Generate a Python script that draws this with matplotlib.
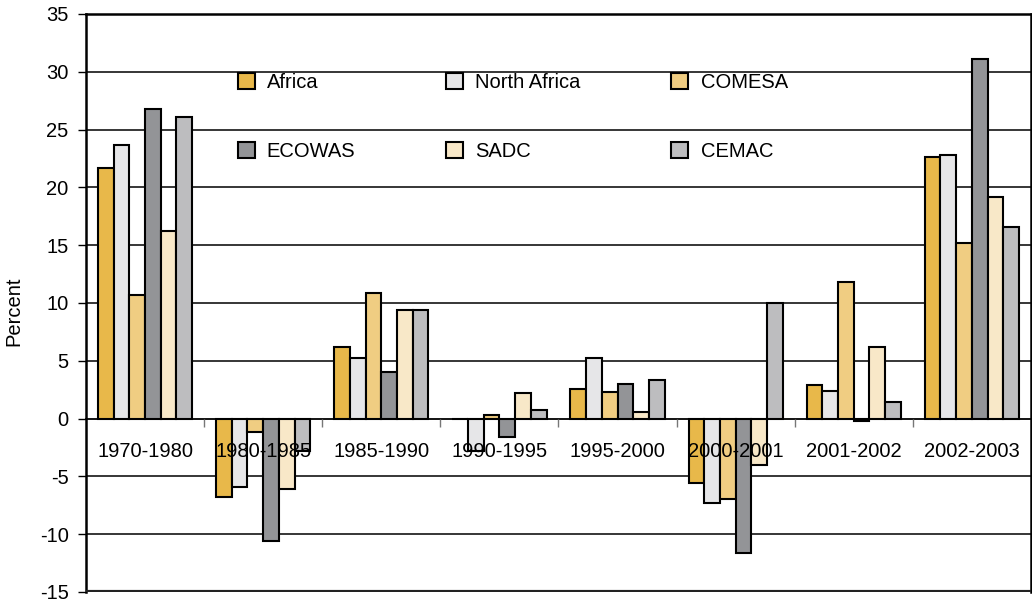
import numpy as np
import matplotlib
matplotlib.use("Agg")
import matplotlib.pyplot as plt

periods = ["1970-1980", "1980-1985", "1985-1990", "1990-1995",
           "1995-2000", "2000-2001", "2001-2002", "2002-2003"]

# growth rates per region, percent
africa       = [21.7, -6.8,  6.2,  0.0,  2.6,  -5.6,  2.9, 22.6]
north_africa = [23.7, -5.9,  5.2, -2.8,  5.2,  -7.3,  2.4, 22.8]
comesa       = [10.7, -1.2, 10.9,  0.35, 2.3,  -6.95, 11.8, 15.2]
ecowas       = [26.8, -10.6, 4.0, -1.6,  2.95, -11.65, -0.2, 31.1]
sadc         = [16.2, -6.1,  9.4,  2.25, 0.55, -4.0,  6.2, 19.2]
cemac        = [26.1, -2.8,  9.4,  0.7,  3.3,  10.0,  1.4, 16.6]

series = ["Africa", "North Africa", "COMESA", "ECOWAS", "SADC", "CEMAC"]
values = [africa, north_africa, comesa, ecowas, sadc, cemac]
colors = ["#E8B84A", "#E6E6E8", "#F0CD82", "#939497", "#F8E8C8", "#BDBDBF"]

plt.rcParams['font.family'] = ['Liberation Sans', 'DejaVu Sans']
plt.rcParams['axes.unicode_minus'] = False

fig = plt.figure(figsize=(10.32, 6.03), dpi=100)
ax = fig.add_axes([0.0833, 0.0183, 0.9157, 0.9585])

x = np.arange(len(periods))
w = 0.133
bars = []
for i, (name, vals, c) in enumerate(zip(series, values, colors)):
    b = ax.bar(x + (i - 2.5) * w, vals, w, color=c, edgecolor="black",
               linewidth=1.5, label=name, zorder=1.2)
    bars.append(b)

# horizontal gridlines behind the bars
for yv in range(-10, 35, 5):
    if yv != 0:
        ax.axhline(yv, color="black", lw=1.1, zorder=0.5)

ax.set_xlim(-0.5, len(periods) - 0.5)
ax.set_ylim(-15, 35)
ax.set_yticks(range(-15, 40, 5))
ax.tick_params(axis="y", labelsize=14.5, length=6, width=1, direction="out", pad=6.5)

# category axis crosses at zero, labels drawn over the bars
ax.spines["bottom"].set_position(("data", 0))
ax.spines["bottom"].set_linewidth(1.3)
ax.xaxis.set_zorder(3)
ax.set_xticks(x)
ax.set_xticklabels(periods)
ax.tick_params(axis="x", which="major", length=0, labelsize=14.5, pad=17)
ax.set_xticks(np.arange(0.5, len(periods) - 0.5, 1), minor=True)
ax.tick_params(axis="x", which="minor", length=6, width=1, color="#777777",
               direction="out")
for s in ["left", "top", "right"]:
    ax.spines[s].set_linewidth(1.8)
ax.axhline(-15, color="#222222", lw=3, zorder=3)

ax.set_ylabel("Percent", fontsize=14.5)
ax.yaxis.set_label_coords(-0.066, 0.485)

# legend: three columns, two rows
order = [0, 3, 1, 4, 2, 5]
h = [bars[k] for k in order]
l = [series[k] for k in order]
leg = ax.legend(h, l, ncol=3, loc="upper left", bbox_to_anchor=(0.152, 0.912),
                frameon=False, fontsize=14.5, handlelength=0.85, handleheight=0.85,
                handletextpad=0.6, columnspacing=4.5, labelspacing=2.5,
                borderaxespad=0)

fig.savefig("out.png", dpi=100)
